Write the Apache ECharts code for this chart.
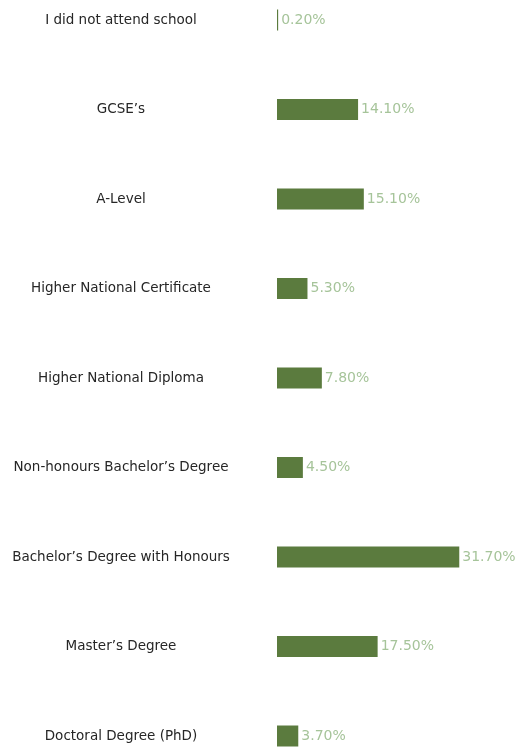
<!DOCTYPE html>
<html>
<head>
<meta charset="utf-8">
<script src="https://cdn.jsdelivr.net/npm/echarts@6/dist/echarts.min.js"></script>
<style>
  html, body { margin: 0; padding: 0; background: #fff; }
  #chart { width: 520px; height: 747px; }
</style>
</head>
<body>
<div id="chart"></div>
<script>
var categories = [
  'I did not attend school',
  'GCSE\u2019s',
  'A-Level',
  'Higher National Certificate',
  'Higher National Diploma',
  'Non-honours Bachelor\u2019s Degree',
  'Bachelor\u2019s Degree with Honours',
  'Master\u2019s Degree',
  'Doctoral Degree (PhD)'
]
var values = [0.2, 14.1, 15.1, 5.3, 7.8, 4.5, 31.7, 17.5, 3.7]

var myChart = echarts.init(document.getElementById('chart'))
var option = {
  animation: false,
  grid: { left: 277, right: 13, top: 20, bottom: 11 },
  xAxis: {
    type: 'value',
    min: 0,
    max: 40,
    show: false
  },
  yAxis: {
    type: 'category',
    data: categories,
    inverse: true,
    boundaryGap: false,
    axisLine: { show: false },
    axisTick: { show: false },
    axisLabel: {
      align: 'center',
      margin: 156,
      color: '#262626',
      fontSize: 13.5,
      fontFamily: 'DejaVu Sans'
    }
  },
  series: [{
    type: 'bar',
    data: values,
    barWidth: 21,
    itemStyle: { color: '#5b7b3e' },
    label: {
      show: true,
      position: 'right',
      distance: 3,
      color: '#a6c49a',
      fontSize: 14,
      fontFamily: 'DejaVu Sans',
      formatter: function (p) { return p.value.toFixed(2) + '%' }
    }
  }]
}
myChart.setOption(option)
</script>
</body>
</html>
